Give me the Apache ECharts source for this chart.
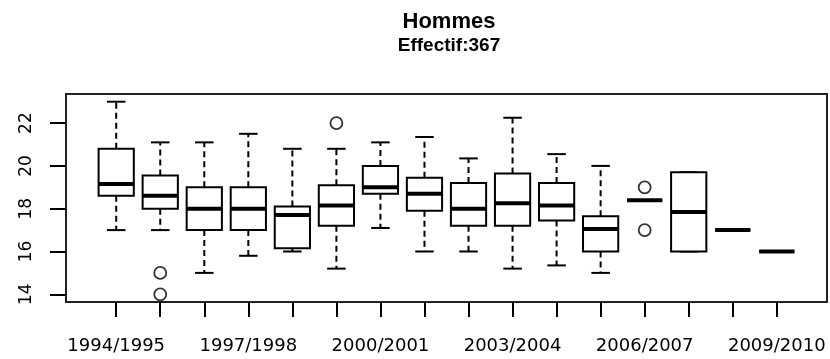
<!DOCTYPE html>
<html lang="fr">
<head>
    <meta charset="UTF-8">
    <title>Hommes</title>
    <script src="https://cdn.jsdelivr.net/npm/echarts@6/dist/echarts.min.js"></script>
    <style>
        html, body { margin: 0; padding: 0; background: #fff; }
        #chart { width: 830px; height: 359px; }
    </style>
</head>
<body>
<div id="chart"></div>
<script>
    // données
    var categories = ['1994/1995', '1995/1996', '1996/1997', '1997/1998', '1998/1999', '1999/2000',
        '2000/2001', '2001/2002', '2002/2003', '2003/2004', '2004/2005', '2005/2006',
        '2006/2007', '2007/2008', '2008/2009', '2009/2010'];
    var mins    = [17.0, 17.0, 15.0, 15.8, 16.0, 15.2, 17.1, 16.0, 16.0, 15.2, 15.35, 15.0, 18.4, 16.0, 17.0, 16.0];
    var q1s     = [18.6, 18.0, 17.0, 17.0, 16.15, 17.2, 18.7, 17.9, 17.2, 17.2, 17.45, 16.0, 18.4, 16.0, 17.0, 16.0];
    var medians = [19.15, 18.6, 18.0, 18.0, 17.7, 18.15, 19.0, 18.7, 18.0, 18.25, 18.15, 17.05, 18.4, 17.85, 17.0, 16.0];
    var q3s     = [20.8, 19.55, 19.0, 19.0, 18.1, 19.1, 20.0, 19.45, 19.2, 19.65, 19.2, 17.65, 18.4, 19.7, 17.0, 16.0];
    var maxs    = [23.0, 21.1, 21.1, 21.5, 20.8, 20.8, 21.1, 21.35, 20.35, 22.25, 20.55, 20.0, 18.4, 19.7, 17.0, 16.0];
    var outliers = [['1995/1996', 15], ['1995/1996', 14], ['1999/2000', 22], ['2006/2007', 19], ['2006/2007', 17]];
    var yTicks = [14, 16, 18, 20, 22];
    var xLabelPos = [1, 4, 7, 10, 13, 16];

    var BOX_W = 0.8;
    var CAP_W = 0.42;

    var boxData = [];
    for (var i = 0; i < categories.length; i++) {
        boxData.push([i + 1, mins[i], q1s[i], medians[i], q3s[i], maxs[i]]);
    }
    var outData = outliers.map(function (o) {
        return [categories.indexOf(o[0]) + 1, o[1]];
    });
    var xTicks = categories.map(function (c, i) { return i + 1; });

    function renderBox(params, api) {
        var x = api.value(0);
        var pLo = api.coord([x, api.value(1)]);
        var pQ1 = api.coord([x, api.value(2)]);
        var pMd = api.coord([x, api.value(3)]);
        var pQ3 = api.coord([x, api.value(4)]);
        var pHi = api.coord([x, api.value(5)]);
        var w = api.size([BOX_W, 0])[0];
        var cw = api.size([CAP_W, 0])[0];
        var cx = pMd[0];
        var dashed = {stroke: '#000', lineWidth: 2, lineDash: [6, 4]};
        var solid = {stroke: '#000', lineWidth: 2};
        var kids = [];
        if (pHi[1] < pQ3[1]) {
            kids.push({type: 'line', shape: {x1: cx, y1: pQ3[1], x2: cx, y2: pHi[1]}, style: dashed});
        }
        if (pLo[1] > pQ1[1]) {
            kids.push({type: 'line', shape: {x1: cx, y1: pQ1[1], x2: cx, y2: pLo[1]}, style: dashed});
        }
        kids.push({type: 'line', shape: {x1: cx - cw / 2, y1: pHi[1], x2: cx + cw / 2, y2: pHi[1]}, style: solid});
        kids.push({type: 'line', shape: {x1: cx - cw / 2, y1: pLo[1], x2: cx + cw / 2, y2: pLo[1]}, style: solid});
        kids.push({
            type: 'rect',
            shape: {x: cx - w / 2, y: pQ3[1], width: w, height: pQ1[1] - pQ3[1]},
            style: {fill: '#fff', stroke: '#000', lineWidth: 2}
        });
        kids.push({type: 'line', shape: {x1: cx - w / 2, y1: pMd[1], x2: cx + w / 2, y2: pMd[1]},
            style: {stroke: '#000', lineWidth: 4}});
        return {type: 'group', children: kids};
    }

    var chart = echarts.init(document.getElementById('chart'));
    var option = {
        backgroundColor: '#fff',
        animation: false,
        title: [
            {
                text: 'Hommes',
                left: 444, top: 6, textAlign: 'center',
                textStyle: {fontFamily: 'Liberation Sans', fontWeight: 'bold', fontSize: 22, color: '#000'}
            },
            {
                text: 'Effectif:367',
                left: 444, top: 31, textAlign: 'center',
                textStyle: {fontFamily: 'Liberation Sans', fontWeight: 'bold', fontSize: 19, color: '#000'}
            }
        ],
        grid: {
            left: 66, right: 3, top: 94, bottom: 57,
            show: true, borderColor: '#222', borderWidth: 2, backgroundColor: '#fff'
        },
        xAxis: {
            type: 'value',
            min: -0.14, max: 17.14,
            splitLine: {show: false},
            axisLine: {show: true, onZero: false, lineStyle: {color: '#222', width: 2}},
            axisTick: {show: true, customValues: xTicks, length: 15, lineStyle: {color: '#000', width: 2}},
            axisLabel: {
                customValues: xLabelPos, margin: 35,
                fontFamily: 'DejaVu Sans', fontSize: 18, color: '#000',
                formatter: function (v) { return categories[Math.round(v) - 1]; }
            }
        },
        yAxis: {
            type: 'value',
            min: 13.64, max: 23.36,
            splitLine: {show: false},
            axisLine: {show: true, onZero: false, lineStyle: {color: '#222', width: 2}},
            axisTick: {show: true, customValues: yTicks, length: 16, lineStyle: {color: '#000', width: 2}},
            axisLabel: {
                customValues: yTicks, rotate: 90, margin: 31,
                fontFamily: 'DejaVu Sans', fontSize: 17, color: '#000'
            }
        },
        series: [
            {
                type: 'custom',
                renderItem: renderBox,
                encode: {x: 0, y: [1, 2, 3, 4, 5]},
                data: boxData,
                z: 2
            },
            {
                type: 'scatter',
                symbol: 'circle',
                symbolSize: 12,
                itemStyle: {color: '#fff', borderColor: '#000', borderWidth: 1.8},
                data: outData,
                z: 3
            }
        ]
    };
    chart.setOption(option);
</script>
</body>
</html>
